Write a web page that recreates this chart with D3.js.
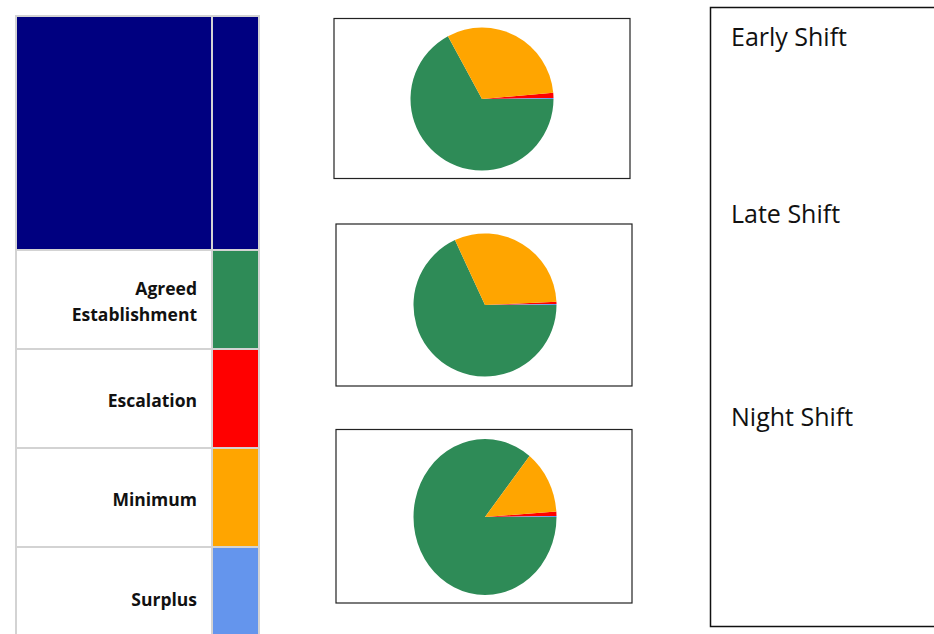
<!DOCTYPE html>
<html>
<head>
<meta charset="utf-8">
<script src="https://cdn.jsdelivr.net/npm/d3@7"></script>
<style>
  body { margin: 0; background: #fff; }
  svg { display: block; }
</style>
</head>
<body>
<svg id="chart" width="934" height="634"></svg>
<script>
// legend categories + colours
const categories = ['Agreed Establishment', 'Escalation', 'Minimum', 'Surplus'];
const catColors = ['#2E8B57', '#FF0000', '#FFA500', '#6495ED'];

// share of staffing per shift (percent)
const earlyValues = [67.1, 1.2, 31.5, 0.2];
const lateValues = [68.1, 0.5, 31.2, 0.2];
const nightValues = [85.7, 0.9, 13.2, 0.2];
const shifts = ['Early Shift', 'Late Shift', 'Night Shift'];

const svg = d3.select('#chart');
const color = d3.scaleOrdinal().domain(categories).range(catColors);

// ---- legend table on the left
const grid = '#d3d3d3';
const rowY = d3.scaleLinear().domain([0, 1]).range([250, 349]);
const leg = svg.append('g');

leg.append('rect')
  .attr('x', 16).attr('y', 16).attr('width', 196).attr('height', 234)
  .attr('fill', '#000080');
leg.append('rect')
  .attr('x', 212).attr('y', 16).attr('width', 47).attr('height', 234)
  .attr('fill', '#000080');

const rows = leg.selectAll('g.row')
  .data(categories)
  .enter()
  .append('g')
  .attr('class', 'row');

rows.append('rect')
  .attr('x', 212)
  .attr('y', (d, i) => rowY(i))
  .attr('width', 47)
  .attr('height', 99)
  .attr('fill', d => color(d));

rows.append('line')
  .attr('x1', 16).attr('x2', 259)
  .attr('y1', (d, i) => rowY(i)).attr('y2', (d, i) => rowY(i))
  .attr('stroke', grid).attr('stroke-width', 2);

rows.each(function (d, i) {
  const words = d === 'Agreed Establishment' ? ['Agreed', 'Establishment'] : [d];
  const cy = rowY(i) + 51.5 + (i === 3 ? 1 : 0);
  const t = d3.select(this).append('text')
    .attr('text-anchor', 'end')
    .attr('font-family', '"Open Sans", sans-serif')
    .attr('font-weight', 700)
    .attr('font-size', 17.5)
    .attr('fill', '#111');
  words.forEach((w, k) => {
    t.append('tspan')
      .attr('x', 197)
      .attr('y', cy + 6 + (k - (words.length - 1) / 2) * 26)
      .text(w);
  });
});

// vertical grid lines + outer frame
[16, 212, 259].forEach(x => {
  leg.append('line')
    .attr('x1', x).attr('x2', x).attr('y1', 15).attr('y2', 634)
    .attr('stroke', grid).attr('stroke-width', 2);
});
leg.append('line')
  .attr('x1', 15).attr('x2', 260).attr('y1', 16).attr('y2', 16)
  .attr('stroke', grid).attr('stroke-width', 2);

// ---- pies
const panels = [
  { values: earlyValues, box: [334, 18.5, 296, 160], cx: 482, cy: 99, sy: 1 },
  { values: lateValues, box: [336, 224, 296, 162], cx: 485, cy: 305, sy: 1 },
  { values: nightValues, box: [336, 429.5, 296, 173.5], cx: 485, cy: 517, sy: 78 / 71.5 }
];

const pie = d3.pie()
  .sort((a, b) => b.value - a.value)
  .value(d => d.value)
  .startAngle(Math.PI / 2)
  .endAngle(Math.PI / 2 + 2 * Math.PI);
const arc = d3.arc().innerRadius(0).outerRadius(71.5);

panels.forEach(p => {
  svg.append('rect')
    .attr('x', p.box[0]).attr('y', p.box[1])
    .attr('width', p.box[2]).attr('height', p.box[3])
    .attr('fill', '#fff').attr('stroke', '#222').attr('stroke-width', 1.2);

  const data = categories.map((c, i) => ({ cat: c, value: p.values[i] }));
  svg.append('g')
    .attr('transform', `translate(${p.cx},${p.cy}) scale(1,${p.sy})`)
    .selectAll('path')
    .data(pie(data))
    .enter()
    .append('path')
    .attr('d', arc)
    .attr('fill', d => color(d.data.cat));
});

// ---- shift labels panel
svg.append('rect')
  .attr('x', 710.5).attr('y', 7.5).attr('width', 240).attr('height', 619)
  .attr('fill', '#fff').attr('stroke', '#111').attr('stroke-width', 1.5);

const shiftBase = { 'Early Shift': 46, 'Late Shift': 223, 'Night Shift': 426 };
svg.selectAll('text.shift')
  .data(shifts)
  .enter()
  .append('text')
  .attr('class', 'shift')
  .attr('x', 731)
  .attr('y', d => shiftBase[d])
  .attr('font-family', '"Open Sans", sans-serif')
  .attr('font-size', 25)
  .attr('fill', '#111')
  .text(d => d);
</script>
</body>
</html>
